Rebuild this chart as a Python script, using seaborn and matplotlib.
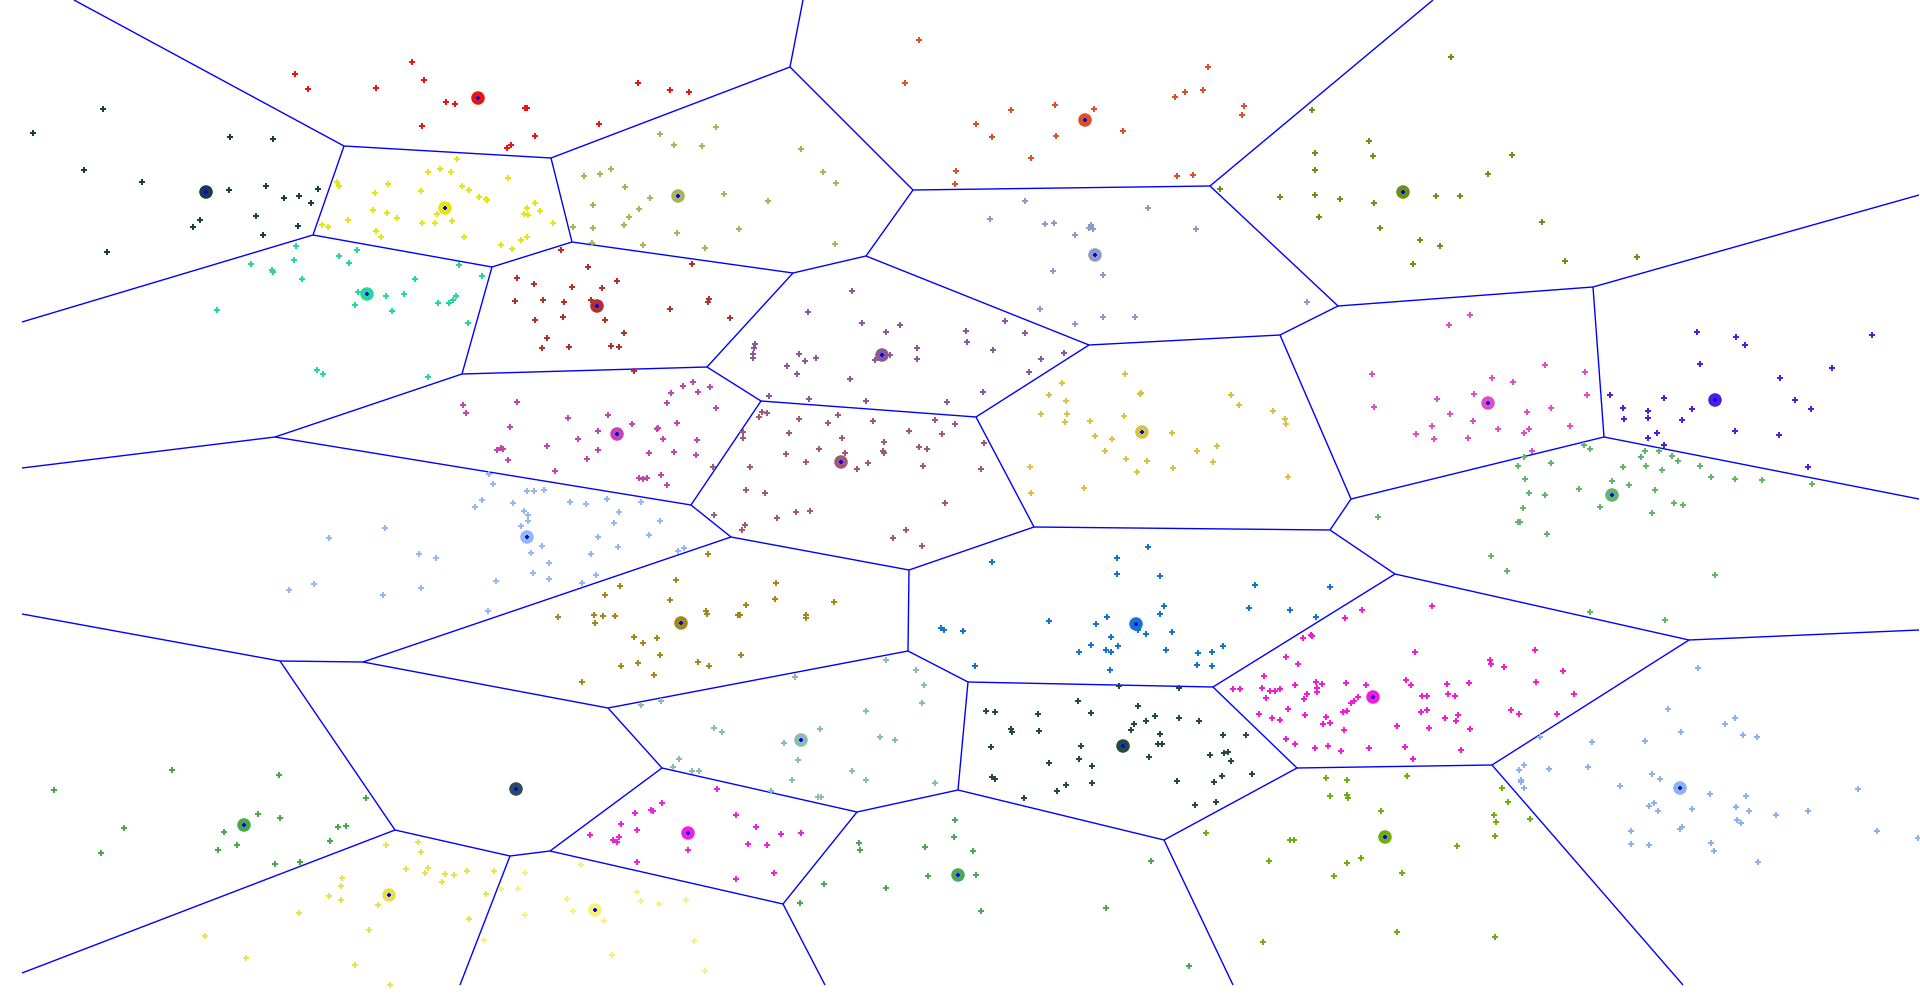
import matplotlib
matplotlib.use('Agg')
import matplotlib.pyplot as plt
from matplotlib.collections import LineCollection
import pandas as pd
import seaborn as sns

# cluster centres (image pixel coordinates, y grows downwards)
center_names = ['navy', 'yellow', 'aqua', 'red', 'khaki', 'darkred', 'orange', 'greyblue',
                'olive', 'purple', 'orchid', 'mauve', 'skyblue', 'darkgold', 'gold', 'blue',
                'pink', 'violet', 'seagreen', 'green', 'lemon', 'slate', 'teal', 'fuchsia',
                'cream', 'forest', 'darkgreen', 'magenta', 'lime', 'cornflower']
center_x = [206, 445, 367, 478, 678, 597, 1085, 1095, 1403, 882, 617, 841, 527, 681, 1142,
            1136, 1488, 1715, 1612, 244, 389, 516, 801, 688, 595, 958, 1123, 1373, 1385, 1680]
center_y = [192, 208, 294, 98, 196, 306, 120, 255, 192, 355, 434, 462, 537, 623, 432,
            624, 403, 400, 495, 825, 895, 789, 740, 833, 910, 875, 746, 697, 837, 788]
center_colors = ['#173a4d', '#e5e510', '#22d99c', '#e81414', '#a9b35c', '#b0302e', '#dd5025',
                 '#8d9bc4', '#6a9018', '#8a5a96', '#c445ad', '#a05a78', '#94b8f5', '#a0881c',
                 '#d8c244', '#1673cc', '#e04ec4', '#4c1ee0', '#62b56c', '#45a84a', '#e8e050',
                 '#2c4a60', '#8abcb2', '#f020e0', '#f7f07a', '#4aa85c', '#234a40', '#f41ad6',
                 '#6eac12', '#8cb2ee']

pts_navy = [(103, 109), (33, 133), (230, 137), (273, 139), (84, 170), (142, 182), (229, 190),
            (266, 186), (318, 189), (284, 198), (299, 196), (311, 203), (200, 220), (193, 227),
            (256, 216), (298, 226), (263, 235), (107, 252)]
pts_red = [(295, 74), (308, 89), (376, 88), (412, 62), (424, 80), (446, 102), (455, 104),
           (422, 126), (638, 83), (670, 90), (689, 92), (525, 108), (527, 108), (599, 124),
           (535, 136), (507, 148), (511, 145)]
pts_yellow = [(337, 182), (339, 186), (322, 225), (328, 227), (348, 220), (375, 193), (388, 184),
              (373, 210), (387, 213), (397, 218), (376, 231), (381, 237), (421, 191), (428, 172),
              (440, 169), (451, 172), (457, 159), (462, 186), (469, 190), (479, 197), (437, 214),
              (435, 223), (422, 223), (452, 221), (464, 237), (508, 178), (486, 199), (487, 200),
              (535, 203), (527, 208), (524, 214), (528, 215), (540, 211), (553, 223), (527, 237),
              (521, 240), (501, 245), (512, 249)]
pts_aqua = [(296, 246), (251, 264), (272, 270), (273, 272), (294, 260), (302, 279), (339, 256),
            (349, 263), (357, 250), (459, 265), (415, 279), (358, 292), (355, 305), (386, 296),
            (404, 294), (392, 311), (438, 303), (449, 303), (453, 300), (456, 296), (468, 323),
            (217, 310), (482, 276), (317, 370), (323, 374), (428, 377)]
pts_khaki = [(716, 127), (660, 134), (674, 145), (702, 146), (801, 149), (584, 176), (600, 174),
             (611, 169), (625, 187), (650, 198), (823, 172), (836, 183), (724, 194), (768, 201),
             (593, 205), (639, 209), (629, 217), (624, 225), (573, 227), (593, 228), (677, 233),
             (739, 229), (592, 243), (643, 245), (705, 248), (835, 244)]
pts_darkred = [(561, 250), (588, 267), (692, 264), (517, 278), (534, 284), (572, 287), (602, 288),
               (617, 281), (515, 301), (543, 300), (564, 302), (591, 300), (709, 299), (708, 302),
               (670, 309), (730, 318), (535, 320), (563, 317), (605, 320), (624, 333), (547, 338),
               (542, 348), (569, 347), (611, 346), (619, 347), (634, 371)]
pts_orange = [(919, 40), (905, 83), (956, 171), (955, 184), (1208, 67), (1175, 97), (1185, 92),
              (1203, 90), (1244, 106), (1242, 115), (1011, 110), (1055, 105), (1094, 109),
              (976, 124), (992, 137), (1056, 136), (1123, 131), (1031, 158), (1177, 176), (1193, 175)]
pts_greyblue = [(1025, 201), (990, 219), (1045, 224), (1054, 223), (1091, 225), (1089, 228),
                (1093, 229), (1075, 235), (1148, 208), (1196, 229), (1053, 271), (1103, 275),
                (1040, 309), (1103, 317), (1135, 317), (1075, 324), (1307, 302)]
pts_olive = [(1220, 189), (1312, 110), (1369, 141), (1373, 156), (1315, 153), (1315, 170),
             (1280, 197), (1315, 195), (1340, 199), (1374, 203), (1319, 217), (1380, 228),
             (1420, 240), (1440, 246), (1413, 264), (1436, 196), (1451, 57), (1512, 155),
             (1488, 174), (1460, 196), (1542, 222), (1565, 261), (1637, 257)]
pts_purple = [(852, 291), (808, 312), (862, 323), (900, 325), (886, 332), (1005, 321), (966, 331),
              (1025, 333), (755, 344), (754, 348), (753, 354), (753, 358), (799, 354), (805, 361),
              (816, 358), (787, 366), (797, 374), (850, 379), (875, 360), (890, 355), (917, 348),
              (917, 359), (769, 396), (809, 399), (866, 401), (947, 402), (967, 342), (993, 350),
              (1041, 359), (1064, 353), (1029, 372), (983, 392)]
pts_orchid = [(683, 386), (693, 382), (710, 387), (671, 393), (698, 392), (667, 403), (716, 408),
              (517, 402), (568, 418), (608, 415), (632, 424), (677, 423), (510, 427), (598, 431),
              (657, 429), (658, 428), (578, 439), (663, 439), (697, 440), (547, 446), (598, 450),
              (497, 450), (501, 448), (503, 449), (649, 453), (674, 452), (696, 455), (508, 460),
              (587, 459), (555, 471), (639, 478), (643, 479), (647, 478), (661, 475), (667, 485),
              (463, 405), (466, 413)]
pts_mauve = [(762, 412), (767, 413), (759, 417), (743, 432), (743, 438), (799, 419), (838, 415),
             (828, 423), (789, 433), (873, 421), (909, 431), (935, 420), (955, 424), (942, 434),
             (842, 438), (884, 442), (819, 449), (845, 453), (883, 451), (884, 453), (919, 447),
             (927, 449), (786, 454), (806, 462), (868, 463), (857, 469), (923, 466), (750, 467),
             (713, 467), (746, 490), (765, 493), (777, 518), (796, 512), (810, 511), (714, 515),
             (745, 525), (742, 530), (945, 503), (906, 530), (893, 538), (922, 546), (984, 443),
             (981, 469)]
pts_skyblue = [(489, 474), (493, 484), (482, 500), (513, 503), (527, 491), (534, 491), (544, 490),
               (570, 502), (586, 504), (607, 499), (641, 502), (524, 511), (528, 515), (528, 521),
               (521, 526), (619, 512), (614, 523), (660, 521), (598, 537), (649, 535), (542, 546),
               (618, 547), (531, 553), (591, 554), (678, 551), (684, 548), (549, 563), (533, 573),
               (549, 579), (596, 575), (582, 583), (496, 581), (488, 611), (475, 507), (385, 528),
               (329, 538), (419, 554), (436, 558), (289, 590), (314, 584), (383, 595), (421, 588)]
pts_darkgold = [(708, 554), (676, 580), (776, 583), (620, 586), (605, 595), (670, 600), (775, 599),
                (746, 605), (834, 602), (706, 611), (707, 614), (738, 615), (740, 615), (806, 615),
                (806, 618), (558, 617), (594, 615), (603, 616), (615, 616), (595, 623), (634, 637),
                (657, 638), (643, 643), (660, 655), (741, 655), (698, 662), (638, 663), (621, 666),
                (709, 666), (582, 682), (654, 675)]
pts_gold = [(1125, 374), (1062, 383), (1049, 395), (1140, 394), (1141, 393), (1066, 401),
            (1041, 414), (1067, 414), (1065, 422), (1124, 416), (1090, 421), (1095, 436),
            (1112, 439), (1105, 451), (1126, 459), (1147, 461), (1137, 472), (1172, 433),
            (1173, 468), (1197, 451), (1217, 446), (1213, 462), (1231, 395), (1239, 405),
            (1273, 411), (1285, 419), (1286, 424), (1288, 477), (1030, 467), (1031, 493), (1084, 488)]
pts_blue = [(1148, 547), (1117, 558), (1117, 574), (1160, 576), (992, 562), (1255, 585), (1330, 587),
            (1249, 608), (1290, 610), (1316, 617), (1164, 606), (1160, 614), (1107, 617), (1096, 624),
            (1049, 621), (963, 631), (1138, 630), (1146, 634), (1172, 632), (1111, 637), (1091, 645),
            (1118, 646), (1106, 650), (1111, 652), (1079, 652), (1166, 650), (1198, 653), (1212, 652),
            (1223, 646), (1197, 665), (1212, 666), (975, 666), (941, 628), (944, 630), (1110, 670)]
pts_pink = [(1372, 374), (1374, 407), (1437, 399), (1432, 426), (1416, 434), (1434, 439), (1545, 365),
            (1585, 372), (1492, 378), (1513, 382), (1474, 394), (1587, 395), (1450, 414), (1473, 421),
            (1527, 412), (1551, 408), (1498, 429), (1529, 429), (1524, 433), (1570, 426), (1468, 438),
            (1532, 451), (1470, 315), (1449, 325)]
pts_violet = [(1736, 337), (1745, 345), (1872, 335), (1700, 364), (1832, 368), (1780, 378),
              (1610, 395), (1664, 398), (1623, 408), (1624, 419), (1648, 411), (1648, 418),
              (1692, 409), (1682, 420), (1795, 400), (1811, 409), (1657, 433), (1648, 438),
              (1664, 445), (1735, 431), (1779, 435), (1808, 467), (1697, 332)]
pts_seagreen = [(1584, 445), (1590, 449), (1645, 451), (1659, 451), (1641, 457), (1672, 456),
                (1678, 461), (1524, 457), (1518, 466), (1551, 463), (1623, 467), (1646, 466),
                (1662, 470), (1700, 466), (1711, 477), (1735, 479), (1762, 480), (1812, 484),
                (1525, 479), (1612, 481), (1629, 485), (1579, 489), (1655, 490), (1529, 493),
                (1545, 495), (1600, 507), (1674, 503), (1683, 505), (1652, 513), (1523, 508),
                (1518, 522), (1520, 522), (1547, 534), (1491, 556), (1507, 571), (1715, 575),
                (1590, 612), (1665, 620), (1378, 517)]
pts_green = [(54, 790), (172, 770), (279, 775), (124, 828), (101, 853), (258, 814), (280, 818),
             (224, 832), (237, 845), (218, 850), (366, 798), (338, 827), (346, 826), (330, 841),
             (275, 864), (300, 862)]
pts_lemon = [(386, 845), (418, 842), (421, 852), (406, 869), (428, 868), (425, 873), (445, 874),
             (454, 875), (467, 871), (442, 882), (342, 878), (341, 886), (329, 896), (341, 900),
             (378, 905), (299, 913), (469, 919), (369, 930), (205, 936), (246, 958), (355, 965),
             (390, 985), (494, 871), (486, 894)]
pts_slate = []
pts_teal = [(795, 677), (916, 670), (924, 685), (922, 703), (866, 711), (641, 705), (661, 701),
            (714, 728), (722, 732), (820, 729), (784, 743), (880, 737), (895, 740), (798, 760),
            (679, 759), (673, 767), (692, 771), (699, 771), (852, 771), (866, 780), (792, 780),
            (935, 783), (771, 791), (818, 797), (821, 797), (886, 660)]
pts_fuchsia = [(717, 789), (662, 803), (635, 813), (651, 810), (653, 811), (736, 815), (621, 824),
               (637, 830), (590, 835), (613, 840), (619, 837), (617, 842), (756, 827), (781, 834),
               (801, 833), (748, 844), (767, 845), (688, 850), (637, 862), (774, 873), (736, 879)]
pts_cream = [(581, 865), (525, 873), (501, 889), (518, 889), (567, 899), (573, 911), (525, 915),
             (604, 921), (637, 892), (641, 901), (659, 904), (686, 900), (484, 940), (694, 941),
             (612, 955), (705, 971)]
pts_forest = [(955, 820), (954, 837), (859, 843), (860, 850), (925, 847), (928, 876), (824, 884),
              (886, 888), (800, 903), (973, 851), (976, 875), (1151, 861), (981, 911), (1106, 908),
              (1189, 966)]
pts_darkgreen = [(1119, 686), (1179, 688), (986, 711), (995, 712), (1038, 714), (1078, 701),
                 (1091, 713), (1138, 706), (1155, 716), (1146, 721), (1179, 718), (1199, 721),
                 (1011, 729), (1012, 732), (1039, 731), (1134, 724), (1131, 730), (1160, 734),
                 (1223, 735), (1246, 735), (991, 747), (1081, 746), (1158, 744), (1162, 744),
                 (1149, 757), (1210, 755), (1224, 753), (1228, 752), (1231, 761), (1049, 763),
                 (1079, 759), (1092, 766), (992, 777), (995, 779), (1066, 785), (1057, 791),
                 (1092, 783), (1177, 781), (1214, 782), (1222, 776), (1252, 774), (1024, 798),
                 (1195, 805), (1216, 802)]
pts_magenta = [(1264, 676), (1233, 689), (1240, 689), (1262, 688), (1270, 691), (1275, 691),
               (1280, 689), (1295, 685), (1316, 682), (1322, 684), (1317, 688), (1317, 692),
               (1307, 694), (1304, 699), (1346, 683), (1366, 685), (1358, 697), (1351, 703),
               (1354, 701), (1343, 712), (1347, 711), (1406, 680), (1411, 685), (1422, 696),
               (1427, 696), (1421, 712), (1427, 710), (1429, 728), (1397, 726), (1266, 698),
               (1288, 709), (1259, 714), (1272, 718), (1280, 720), (1305, 715), (1326, 717),
               (1323, 724), (1330, 723), (1344, 730), (1286, 739), (1295, 744), (1315, 748),
               (1328, 746), (1341, 751), (1369, 748), (1405, 747), (1413, 759), (1362, 610),
               (1345, 618), (1432, 606), (1303, 638), (1311, 635), (1312, 636), (1286, 657),
               (1298, 664), (1415, 652), (1535, 650), (1490, 660), (1491, 664), (1504, 667),
               (1563, 671), (1447, 684), (1469, 683), (1536, 682), (1448, 694), (1455, 696),
               (1574, 694), (1511, 710), (1519, 714), (1557, 714), (1445, 718), (1458, 715),
               (1456, 721), (1470, 729), (1461, 750)]
pts_lime = [(1326, 778), (1347, 780), (1407, 776), (1330, 796), (1347, 795), (1348, 798),
            (1381, 811), (1206, 833), (1290, 840), (1294, 840), (1269, 861), (1347, 863),
            (1361, 858), (1334, 876), (1402, 873), (1263, 942), (1397, 932), (1502, 788),
            (1508, 802), (1494, 815), (1496, 822), (1495, 836), (1530, 819), (1457, 846), (1495, 937)]
pts_cornflower = [(1698, 668), (1668, 709), (1735, 718), (1725, 724), (1681, 732), (1743, 735),
                  (1757, 737), (1645, 741), (1592, 742), (1540, 737), (1524, 765), (1519, 770),
                  (1549, 769), (1588, 767), (1521, 780), (1521, 782), (1524, 788), (1620, 786),
                  (1652, 774), (1660, 779), (1710, 794), (1746, 796), (1858, 789), (1649, 806),
                  (1654, 803), (1658, 811), (1692, 809), (1736, 807), (1749, 811), (1776, 815),
                  (1808, 811), (1737, 820), (1741, 823), (1680, 829), (1682, 827), (1631, 831),
                  (1631, 844), (1649, 845), (1711, 843), (1714, 851), (1758, 862), (1877, 831),
                  (1918, 838)]

# voronoi cell vertices and the edges joining them
vert_x = [344, 551, 313, 492, 790, 572, 462, 913, 793, 866, 707, 1089, 1210, 1338, 1593, 1604,
          1280, 1351, 976, 761, 275, 691, 731, 909, 363, 1034, 1330, 1395, 1689, 1492, 1297, 1213,
          968, 908, 958, 857, 1164, 662, 783, 550, 608, 280, 395, 510,
          74, 22, 803, 1433, 1919, 22, 1919, 1919, 1683, 1233, 825, 22, 22, 460]
vert_y = [146, 158, 235, 267, 67, 242, 374, 190, 273, 256, 367, 345, 186, 306, 287, 437,
          335, 499, 417, 401, 437, 505, 537, 570, 662, 527, 530, 574, 640, 765, 768, 687,
          682, 651, 790, 812, 840, 768, 904, 851, 708, 661, 830, 856,
          0, 322, 0, 0, 195, 468, 499, 630, 985, 985, 985, 614, 973, 985]
edges = [(44, 0), (0, 1), (0, 2), (2, 45), (2, 3), (1, 4), (1, 5), (3, 6), (3, 5), (4, 46),
         (4, 7), (5, 8), (8, 9), (8, 10), (9, 7), (9, 11), (7, 12), (12, 47), (12, 13), (13, 14),
         (14, 48), (14, 15), (13, 16), (16, 17), (16, 11), (11, 18), (10, 19), (19, 18), (10, 6),
         (6, 20), (20, 49), (20, 21), (19, 21), (21, 22), (22, 23), (22, 24), (18, 25), (25, 23),
         (25, 26), (17, 26), (17, 15), (15, 50), (26, 27), (27, 28), (28, 51), (28, 29), (29, 52),
         (29, 30), (27, 31), (31, 30), (31, 32), (23, 33), (33, 32), (32, 34), (34, 35), (34, 36),
         (30, 36), (36, 53), (35, 37), (35, 38), (38, 54), (38, 39), (39, 37), (37, 40), (24, 40),
         (40, 33), (24, 41), (41, 55), (41, 42), (42, 56), (42, 43), (43, 39), (43, 57)]

cluster_points = [pts_navy, pts_yellow, pts_aqua, pts_red, pts_khaki, pts_darkred, pts_orange,
                  pts_greyblue, pts_olive, pts_purple, pts_orchid, pts_mauve, pts_skyblue,
                  pts_darkgold, pts_gold, pts_blue, pts_pink, pts_violet, pts_seagreen, pts_green,
                  pts_lemon, pts_slate, pts_teal, pts_fuchsia, pts_cream, pts_forest,
                  pts_darkgreen, pts_magenta, pts_lime, pts_cornflower]

rows = []
for name, pts in zip(center_names, cluster_points):
    for x, y in pts:
        rows.append({'x': x, 'y': y, 'cluster': name})
df = pd.DataFrame(rows)
centers = pd.DataFrame({'x': center_x, 'y': center_y, 'cluster': center_names})
palette = dict(zip(center_names, center_colors))

sns.set_style('white')
fig = plt.figure(figsize=(19.2, 10.01), dpi=100)
ax = fig.add_axes([0, 0, 1, 1])

segs = [[(vert_x[a], vert_y[a]), (vert_x[b], vert_y[b])] for a, b in edges]
ax.add_collection(LineCollection(segs, colors='#0000ff', linewidths=1.0, zorder=1))

sns.scatterplot(data=df, x='x', y='y', hue='cluster', palette=palette, marker='P',
                s=24, linewidth=0, legend=False, ax=ax, zorder=2)
sns.scatterplot(data=centers, x='x', y='y', hue='cluster', palette=palette, marker='o',
                s=95, linewidth=0, legend=False, ax=ax, zorder=3)
ax.scatter(center_x, center_y, marker='P', s=12, color='#0000ff', linewidths=0, zorder=4)

ax.set_xlim(0, 1920)
ax.set_ylim(1001, 0)
ax.axis('off')
fig.savefig('out.png', dpi=100, facecolor='white')
